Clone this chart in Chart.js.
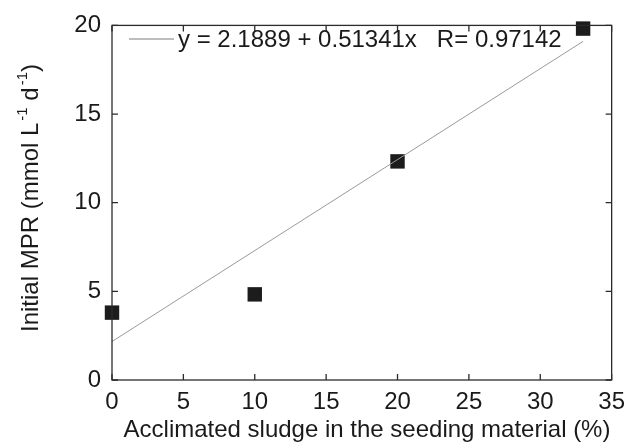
<!doctype html>
<html>
<head>
	<meta charset="utf-8">
	<title>Initial MPR vs acclimated sludge</title>
	<script src="https://cdn.jsdelivr.net/npm/chart.js@4.4.1/dist/chart.umd.min.js"></script>
	<style>
		html, body {margin:0; padding:0; background:#fff}
		#wrap {width:633px; height:444px}
	</style>
</head>
<body>
<div id="wrap"><canvas id="canvas"></canvas></div>
<script>
	// measured points
	var sludgePct = [0, 10, 20, 33];
	var initialMPR = [3.8, 4.83, 12.33, 19.82];
	// fitted line end points
	var fitX = [0, 33];
	var fitY = [2.17, 19.1];
	var fitLabel = 'y = 2.1889 + 0.51341x   R= 0.97142';
	var xTitle = 'Acclimated sludge in the seeding material (%)';
	var xTicks = [0, 5, 10, 15, 20, 25, 30, 35];
	var yTicks = [0, 5, 10, 15, 20];

	var FONT = 'Arial, "Liberation Sans", sans-serif';

	var framePlugin = {
		id: 'frame',
		afterDraw: function(chart) {
			var c = chart.ctx, a = chart.chartArea;
			var xs = chart.scales.x, ys = chart.scales.y;
			c.save();
			c.strokeStyle = '#2b2b2b';
			c.lineWidth = 1.3;
			c.strokeRect(a.left, a.top, a.right - a.left, a.bottom - a.top);
			// inward ticks on all four sides
			c.beginPath();
			xTicks.forEach(function(v) {
				var px = xs.getPixelForValue(v);
				c.moveTo(px, a.bottom); c.lineTo(px, a.bottom - 6);
				c.moveTo(px, a.top); c.lineTo(px, a.top + 6);
			});
			yTicks.forEach(function(v) {
				var py = ys.getPixelForValue(v);
				c.moveTo(a.left, py); c.lineTo(a.left + 6, py);
				c.moveTo(a.right, py); c.lineTo(a.right - 6, py);
			});
			c.stroke();

			// legend for the fit
			c.strokeStyle = '#bdbdbd';
			c.lineWidth = 2;
			c.beginPath();
			c.moveTo(a.left + 17, 39); c.lineTo(a.left + 62, 39);
			c.stroke();
			c.fillStyle = '#1a1a1a';
			c.font = '24px ' + FONT;
			c.textBaseline = 'middle';
			c.textAlign = 'left';
			c.fillText(fitLabel, a.left + 66, 40);

			// x title
			c.textAlign = 'center';
			c.textBaseline = 'alphabetic';
			c.fillText(xTitle, 367, 437);

			// y title with superscripts
			var parts = [
				['Initial MPR (mmol L', 0],
				['-1', 1],
				[' d', 0],
				['-1', 1],
				[')', 0]
			];
			var total = 0;
			parts.forEach(function(p) {
				c.font = (p[1] ? '15px ' : '24px ') + FONT;
				p.push(c.measureText(p[0]).width + (p[1] ? 2 : 0));
				total += p[2];
			});
			c.translate(38, 198);
			c.rotate(-Math.PI / 2);
			c.textAlign = 'left';
			var x = -total / 2;
			parts.forEach(function(p) {
				c.font = (p[1] ? '15px ' : '24px ') + FONT;
				c.fillText(p[0], x + (p[1] ? 2 : 0), p[1] ? -11 : 0);
				x += p[2];
			});
			c.restore();
		}
	};

	new Chart(document.getElementById('canvas'), {
		type: 'scatter',
		data: {
			datasets: [{
				type: 'line',
				label: fitLabel,
				data: fitX.map(function(v, i) { return {x: v, y: fitY[i]}; }),
				borderColor: '#9a9a9a',
				borderWidth: 1,
				pointRadius: 0,
				fill: false
			}, {
				label: 'MPR',
				data: sludgePct.map(function(v, i) { return {x: v, y: initialMPR[i]}; }),
				pointStyle: 'rect',
				pointRadius: 10.2,
				pointHoverRadius: 10.2,
				backgroundColor: '#1c1c1c',
				borderColor: '#1c1c1c',
				borderWidth: 0,
				clip: false
			}]
		},
		options: {
			responsive: true,
			maintainAspectRatio: false,
			animation: false,
			layout: {padding: {top: 21, right: 15, left: 0, bottom: 0}},
			plugins: {legend: {display: false}, tooltip: {enabled: false}},
			scales: {
				x: {
					type: 'linear', min: 0, max: 35,
					grid: {display: false, drawTicks: false},
					border: {display: false},
					ticks: {stepSize: 5, padding: 8, color: '#1a1a1a', font: {family: FONT, size: 24}},
					afterFit: function(s) { s.height = 64; }
				},
				y: {
					min: 0, max: 20,
					grid: {display: false, drawTicks: false},
					border: {display: false},
					ticks: {stepSize: 5, padding: 11, color: '#1a1a1a', font: {family: FONT, size: 24}},
					afterFit: function(s) { s.width = 112; }
				}
			}
		},
		plugins: [framePlugin]
	});
</script>
</body>
</html>
